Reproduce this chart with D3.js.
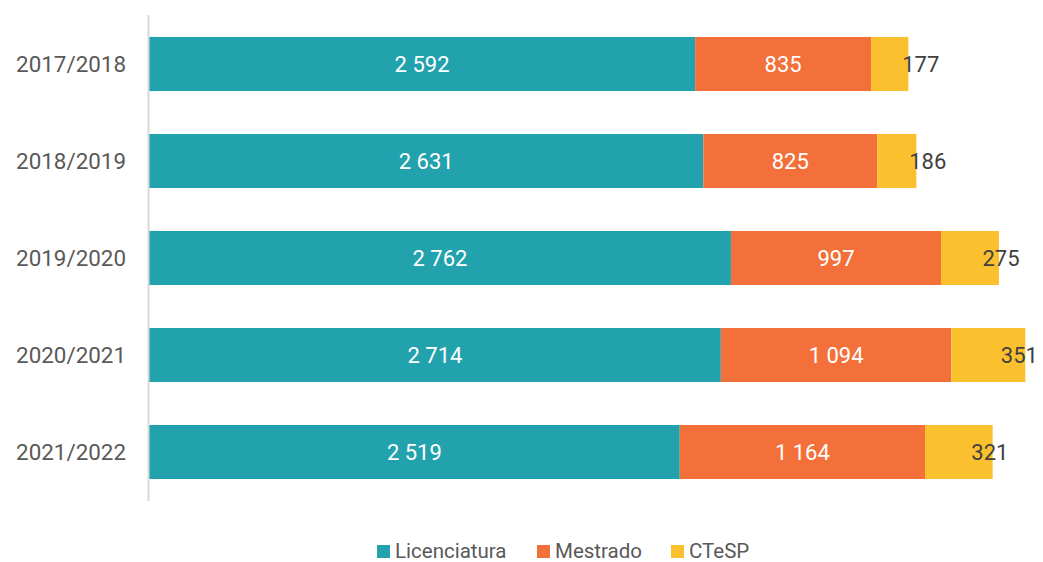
<!DOCTYPE html>
<html><head><meta charset="utf-8">
<script src="https://cdn.jsdelivr.net/npm/d3@7"></script>
<style>body{margin:0;background:#fff}svg{display:block}text{font-family:Roboto,"Open Sans",sans-serif}</style>
</head><body><svg id="c" width="1043" height="562"></svg>
<script>
const categories = ["2017/2018","2018/2019","2019/2020","2020/2021","2021/2022"];
const seriesNames = ["Licenciatura","Mestrado","CTeSP"];
const licenciatura = [2592,2631,2762,2714,2519];
const mestrado = [835,825,997,1094,1164];
const ctesp = [177,186,275,351,321];
const colors = ["#22a2ad","#f4703a","#fbc02d"];

const svg = d3.select("#c");
const x = d3.scaleLinear().domain([0,4500]).range([149,149+4500*0.2107]);
const y = d3.scaleBand().domain(categories).range([15.5,500.5]).paddingInner(0.443).paddingOuter(0.2215);
const loc = d3.formatLocale({decimal:",",thousands:" ",grouping:[3],currency:["",""]});
const fmt = loc.format(",d");

const stackData = categories.map((c,i)=>({cat:c, Licenciatura:licenciatura[i], Mestrado:mestrado[i], CTeSP:ctesp[i]}));
const stack = d3.stack().keys(seriesNames)(stackData);

stack.forEach((s,si)=>{
  const g = svg.append("g");
  g.selectAll("rect").data(s).join("rect")
    .attr("x",d=>x(d[0])).attr("width",d=>x(d[1])-x(d[0]))
    .attr("y",d=>y(d.data.cat)).attr("height",y.bandwidth())
    .attr("fill",colors[si]);
  g.selectAll("text").data(s).join("text")
    .attr("x",d=>(x(d[0])+x(d[1]))/2 + (si===2?31:0))
    .attr("y",d=>y(d.data.cat)+y.bandwidth()/2)
    .attr("dy","0.36em")
    .attr("text-anchor","middle")
    .attr("font-size",22)
    .attr("fill",si===2?"#404040":"#ffffff")
    .text(d=>fmt(d[1]-d[0]));
});

// axis line
svg.append("line").attr("x1",148.5).attr("x2",148.5).attr("y1",15).attr("y2",501)
  .attr("stroke","#d9d9d9").attr("stroke-width",2);

// category labels
const yAxis = d3.axisLeft(y).tickSize(0).tickPadding(0);
const ag = svg.append("g").attr("transform","translate(126,0)").call(yAxis);
ag.select(".domain").remove();
ag.selectAll("text").attr("font-size",22.4).attr("fill","#595959").style("font-family","Roboto,sans-serif").attr("dy","0.36em");

// legend
const legX = [377,537,671];
const lg = svg.append("g");
seriesNames.forEach((n,i)=>{
  lg.append("rect").attr("x",legX[i]).attr("y",545).attr("width",13).attr("height",13).attr("fill",colors[i]);
  lg.append("text").attr("x",legX[i]+18).attr("y",551).attr("dy","0.36em").attr("font-size",20.5).attr("fill","#595959").text(n);
});
</script></body></html>
